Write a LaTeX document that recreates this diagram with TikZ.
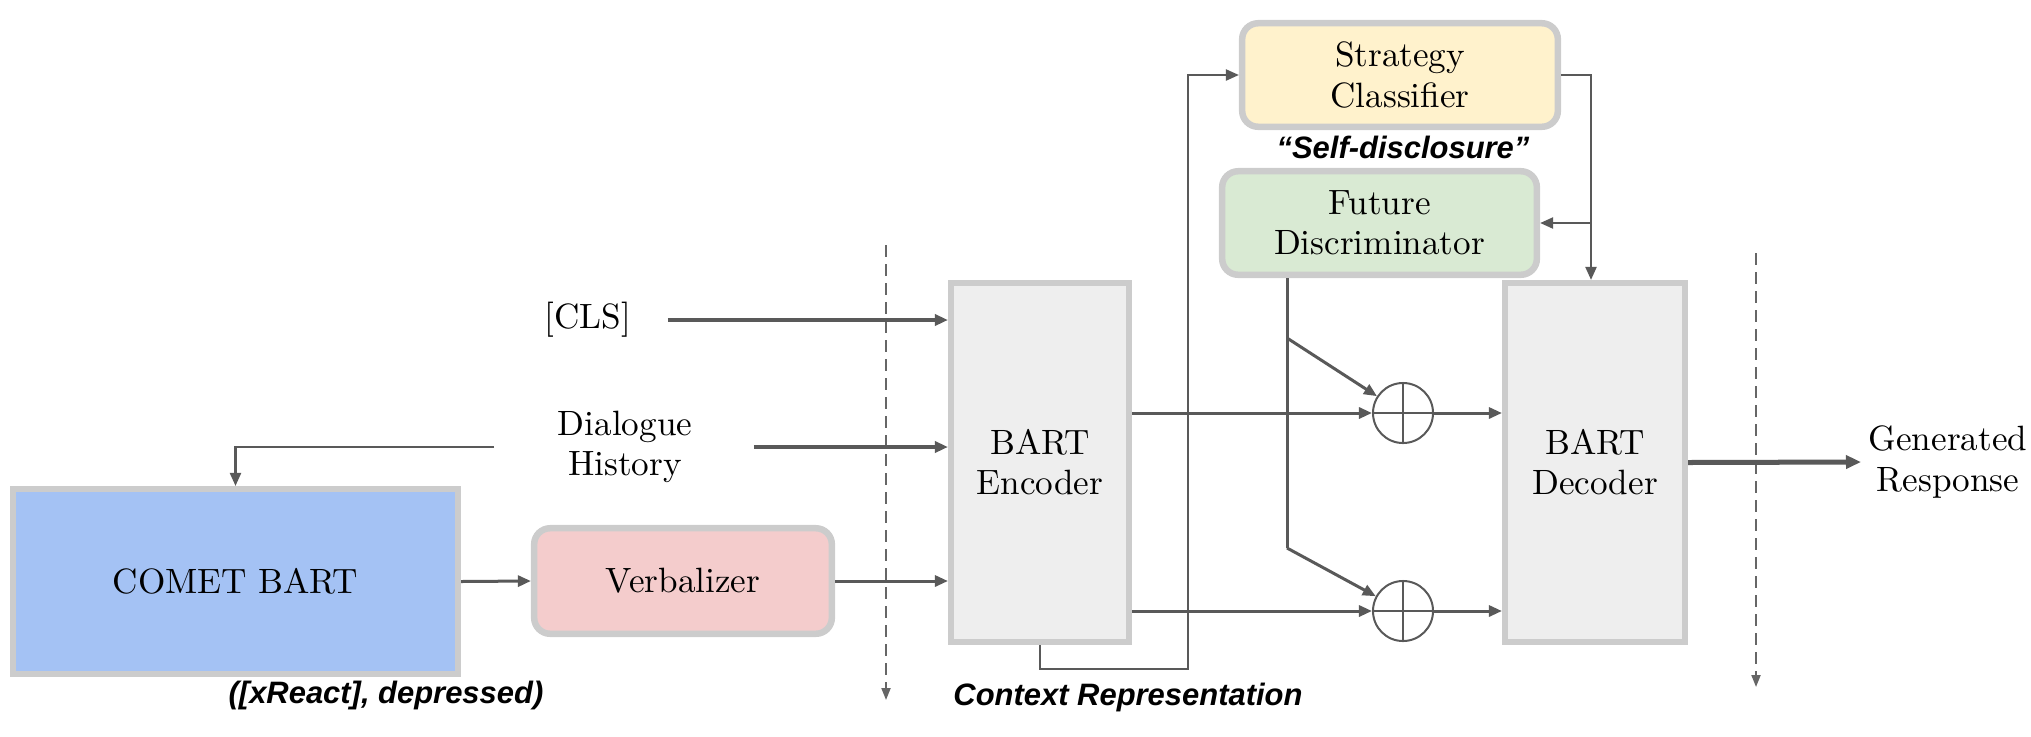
\documentclass[tikz,border=0pt]{standalone}
\usepackage{fontspec}
\newfontfamily\labelfont{Liberation Sans}
\usetikzlibrary{arrows.meta}
\definecolor{ln}{HTML}{595959}
\definecolor{bord}{HTML}{CCCCCC}
\definecolor{dashc}{HTML}{666666}
\definecolor{cometc}{HTML}{A4C2F4}
\definecolor{verbc}{HTML}{F4CCCC}
\definecolor{stratc}{HTML}{FFF2CC}
\definecolor{discc}{HTML}{D9EAD3}
\definecolor{bartc}{HTML}{EEEEEE}
\tikzset{
  box/.style={draw=bord, line width=0.065cm, align=center, inner sep=0pt,
    font=\fontsize{10}{11.4}\selectfont},
  rbox/.style={box, rounded corners=0.16cm},
  txt/.style={align=center, inner sep=0pt, font=\fontsize{10}{11.4}\selectfont},
  lbl/.style={inner sep=0pt, font=\labelfont\bfseries\itshape\fontsize{8.8}{10}\selectfont},
  tip/.style={-{Triangle[length=0.13cm,width=0.11cm]}},
  conn/.style={draw=ln, line width=0.03cm, tip},
  connthick/.style={draw=ln, line width=0.04cm, tip},
  connthin/.style={draw=ln, line width=0.022cm, tip},
  plain/.style={draw=ln, line width=0.022cm},
  plus/.style={circle, draw=ln, line width=0.02cm, minimum size=0.6cm, inner sep=0pt},
  dashline/.style={draw=dashc, line width=0.02cm, dash pattern=on 0.12cm off 0.07cm,
    -{Triangle[length=0.12cm,width=0.09cm]}},
}
\begin{document}
\begin{tikzpicture}[x=0.01cm,y=-0.01cm]
\useasboundingbox (0,0) rectangle (2031,736);

% boxes
\node[box, fill=cometc, minimum width=4.445cm, minimum height=1.845cm] (comet) at (235.5,581.5) {COMET BART};
\node[rbox, fill=verbc, minimum width=2.975cm, minimum height=1.055cm] (verb) at (683,581) {Verbalizer};
\node[box, fill=bartc, minimum width=1.775cm, minimum height=3.585cm] (enc) at (1040,462.5) {BART\\Encoder};
\node[box, fill=bartc, minimum width=1.795cm, minimum height=3.585cm] (dec) at (1595,462.5) {BART\\Decoder};
\node[rbox, fill=stratc, minimum width=3.155cm, minimum height=1.035cm] (strat) at (1400,75) {Strategy\\Classifier};
\node[rbox, fill=discc, minimum width=3.145cm, minimum height=1.035cm] (disc) at (1379.5,223) {Future\\Discriminator};

% plus circles
\node[plus] (c1) at (1403,413) {};
\node[plus] (c2) at (1403,611) {};
\draw[plain] (c1.north) -- (c1.south) (c1.west) -- (c1.east);
\draw[plain] (c2.north) -- (c2.south) (c2.west) -- (c2.east);

% texts
\node[txt] (cls) at (588,320) {[CLS]};
\node[txt] (dh) at (625,447) {Dialogue\\History};
\node[txt, inner sep=2pt] (gen) at (1948,462) {Generated\\Response};
\node[lbl] (self) at (1403,147) {“Self-disclosure”};
\node[lbl] (ctx) at (1128,697) {Context Representation};
\node[lbl] (xr) at (386,695) {([xReact], depressed)};

% dashed separators
\coordinate (d1t) at (886,245);
\coordinate (d1b) at (886,700);
\coordinate (d2t) at (1756,253);
\coordinate (d2b) at (1756,687);
\draw[dashline] (d1t) -- (d1b);
\draw[dashline] (d2t) -- (d2b);

% inputs
\draw[connthick] ([xshift=0.36cm]cls.east) -- (enc.west |- cls.east);
\draw[connthick] ([xshift=0.61cm]dh.east) -- (enc.west |- dh.east);
\draw[connthin] ([xshift=-0.63cm]dh.west) -| (comet.north);
\draw[conn] (comet.east) -- (verb.west);
\draw[conn] (verb.east) -- (enc.west |- verb.east);

% encoder to sums
\draw[conn] (enc.east |- c1.west) -- (c1.west);
\draw[conn] (enc.east |- c2.west) -- (c2.west);
\draw[conn] (c1.east) -- (dec.west |- c1.east);
\draw[conn] (c2.east) -- (dec.west |- c2.east);

% context representation loop
\coordinate (ctxc) at (1188,669);
\draw[connthin] (enc.south) |- (ctxc) |- (strat.west);

% strategy classifier outputs
\draw[connthin] (strat.east) -| ([xshift=-0.04cm]dec.north);
\draw[connthin] ([xshift=-0.04cm]dec.north |- disc.east) -- (disc.east);

% discriminator branches
\coordinate (dv) at (1287,278);
\coordinate (dm) at (1287,338);
\coordinate (dd) at (1287,548);
\draw[draw=ln, line width=0.03cm] (dv) -- (dd);
\draw[conn] (dm) -- (c1);
\draw[conn] (dd) -- (c2);

% output
\draw[draw=ln, line width=0.05cm, -{Triangle[length=0.15cm,width=0.13cm]}] (dec.east) -- (gen.west);
\end{tikzpicture}
\end{document}
